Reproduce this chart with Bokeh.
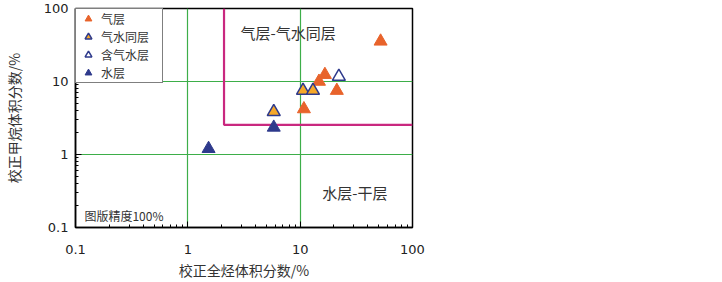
from bokeh.plotting import figure
from bokeh.models import FixedTicker, Legend, LegendItem, Label
from bokeh.embed import file_html
from bokeh.resources import INLINE

# ---- data ----
gas_x = [52, 16.6, 14.7, 21.2, 10.8]
gas_y = [35.5, 12.4, 10.0, 7.5, 4.2]
gw_x = [10.6, 13.0, 5.82]
gw_y = [7.5, 7.5, 3.84]
cgw_x = [22.1]
cgw_y = [11.7]
water_x = [5.82, 1.53]
water_y = [2.35, 1.2]
boundary_x = [2.1, 2.1, 100]
boundary_y = [100, 2.55, 2.55]
major_ticks = [0.1, 1, 10, 100]
tick_labels = ["0.1", "1", "10", "100"]
grid_ticks = [1, 10]
series_names = ["气层", "气水同层", "含气水层", "水层"]

ORANGE = "#E8632B"
YELLOW = "#F6A829"
BLUE = "#2E3A8C"
MAGENTA = "#C9287F"
GREEN = "#3DAE49"
CJK = "Noto Sans CJK SC"
TXT = "#333333"

p = figure(width=437, height=282, x_axis_type="log", y_axis_type="log",
           x_range=(0.1, 100), y_range=(0.1, 100),
           output_backend="svg", toolbar_location=None,
           min_border_left=71, min_border_right=25,
           min_border_top=8, min_border_bottom=53)

minor = [m * d for d in [0.1, 1, 10] for m in range(2, 10)]
for ax, lbl in ((p.xaxis[0], "校正全烃体积分数/%"), (p.yaxis[0], "校正甲烷体积分数/%")):
    ax.ticker = FixedTicker(ticks=major_ticks, minor_ticks=minor)
    ax.major_label_overrides = {t: s for t, s in zip(major_ticks, tick_labels)}
    ax.axis_label = lbl
    ax.axis_label_text_font = CJK
    ax.axis_label_text_font_size = "14px"
    ax.axis_label_text_font_style = "normal"
    ax.axis_label_text_color = TXT
    ax.major_label_text_font = "DejaVu Sans"
    ax.major_label_text_font_size = "13px"
    ax.major_label_text_color = "#222222"
    ax.axis_line_color = "black"
    ax.axis_line_width = 1.5
    ax.major_tick_in = 6
    ax.major_tick_out = 0
    ax.minor_tick_in = 3
    ax.minor_tick_out = 0
    ax.major_tick_line_color = "black"
    ax.minor_tick_line_color = "black"
p.xaxis.major_label_standoff = 17
p.xaxis.axis_label_standoff = 3
p.yaxis.major_label_standoff = 7
p.yaxis.axis_label_standoff = 17

p.outline_line_color = "black"
p.outline_line_width = 1.5
p.outline_line_alpha = 1

for g in (p.xgrid[0], p.ygrid[0]):
    g.ticker = FixedTicker(ticks=grid_ticks)
    g.grid_line_color = GREEN
    g.grid_line_width = 1.2

p.line(boundary_x, boundary_y, line_color=MAGENTA, line_width=2.2)

r_gas = p.scatter(gas_x, gas_y, marker="triangle", size=13,
                  fill_color=ORANGE, line_color=ORANGE, line_width=1)
r_gw = p.scatter(gw_x, gw_y, marker="triangle", size=13,
                 fill_color=YELLOW, line_color=BLUE, line_width=1.5)
r_cgw = p.scatter(cgw_x, cgw_y, marker="triangle", size=13,
                  fill_color="white", line_color=BLUE, line_width=1.5)
r_water = p.scatter(water_x, water_y, marker="triangle", size=13,
                    fill_color=BLUE, line_color=BLUE, line_width=1)

legend = Legend(items=[LegendItem(label=n, renderers=[r])
                       for n, r in zip(series_names, [r_gas, r_gw, r_cgw, r_water])],
                location="top_left", margin=0, padding=1, spacing=1,
                glyph_width=22, glyph_height=17, label_height=17,
                label_standoff=2, label_width=60,
                label_text_font=CJK, label_text_font_size="12px",
                label_text_color=TXT,
                border_line_color="black", border_line_width=1.5,
                background_fill_color="white", background_fill_alpha=1)
p.add_layout(legend)

p.add_layout(Label(x=2.95, y=47.4, text="气层-气水同层", text_font=CJK,
                   text_font_size="15px", text_color=TXT, text_baseline="middle"))
p.add_layout(Label(x=15.7, y=0.306, text="水层-干层", text_font=CJK,
                   text_font_size="15px", text_color=TXT, text_baseline="middle"))
p.add_layout(Label(x=0.12, y=0.148, text="图版精度100%", text_font=CJK,
                   text_font_size="12px", text_color=TXT, text_baseline="middle"))

open("out.html", "w").write(file_html(p, INLINE))
